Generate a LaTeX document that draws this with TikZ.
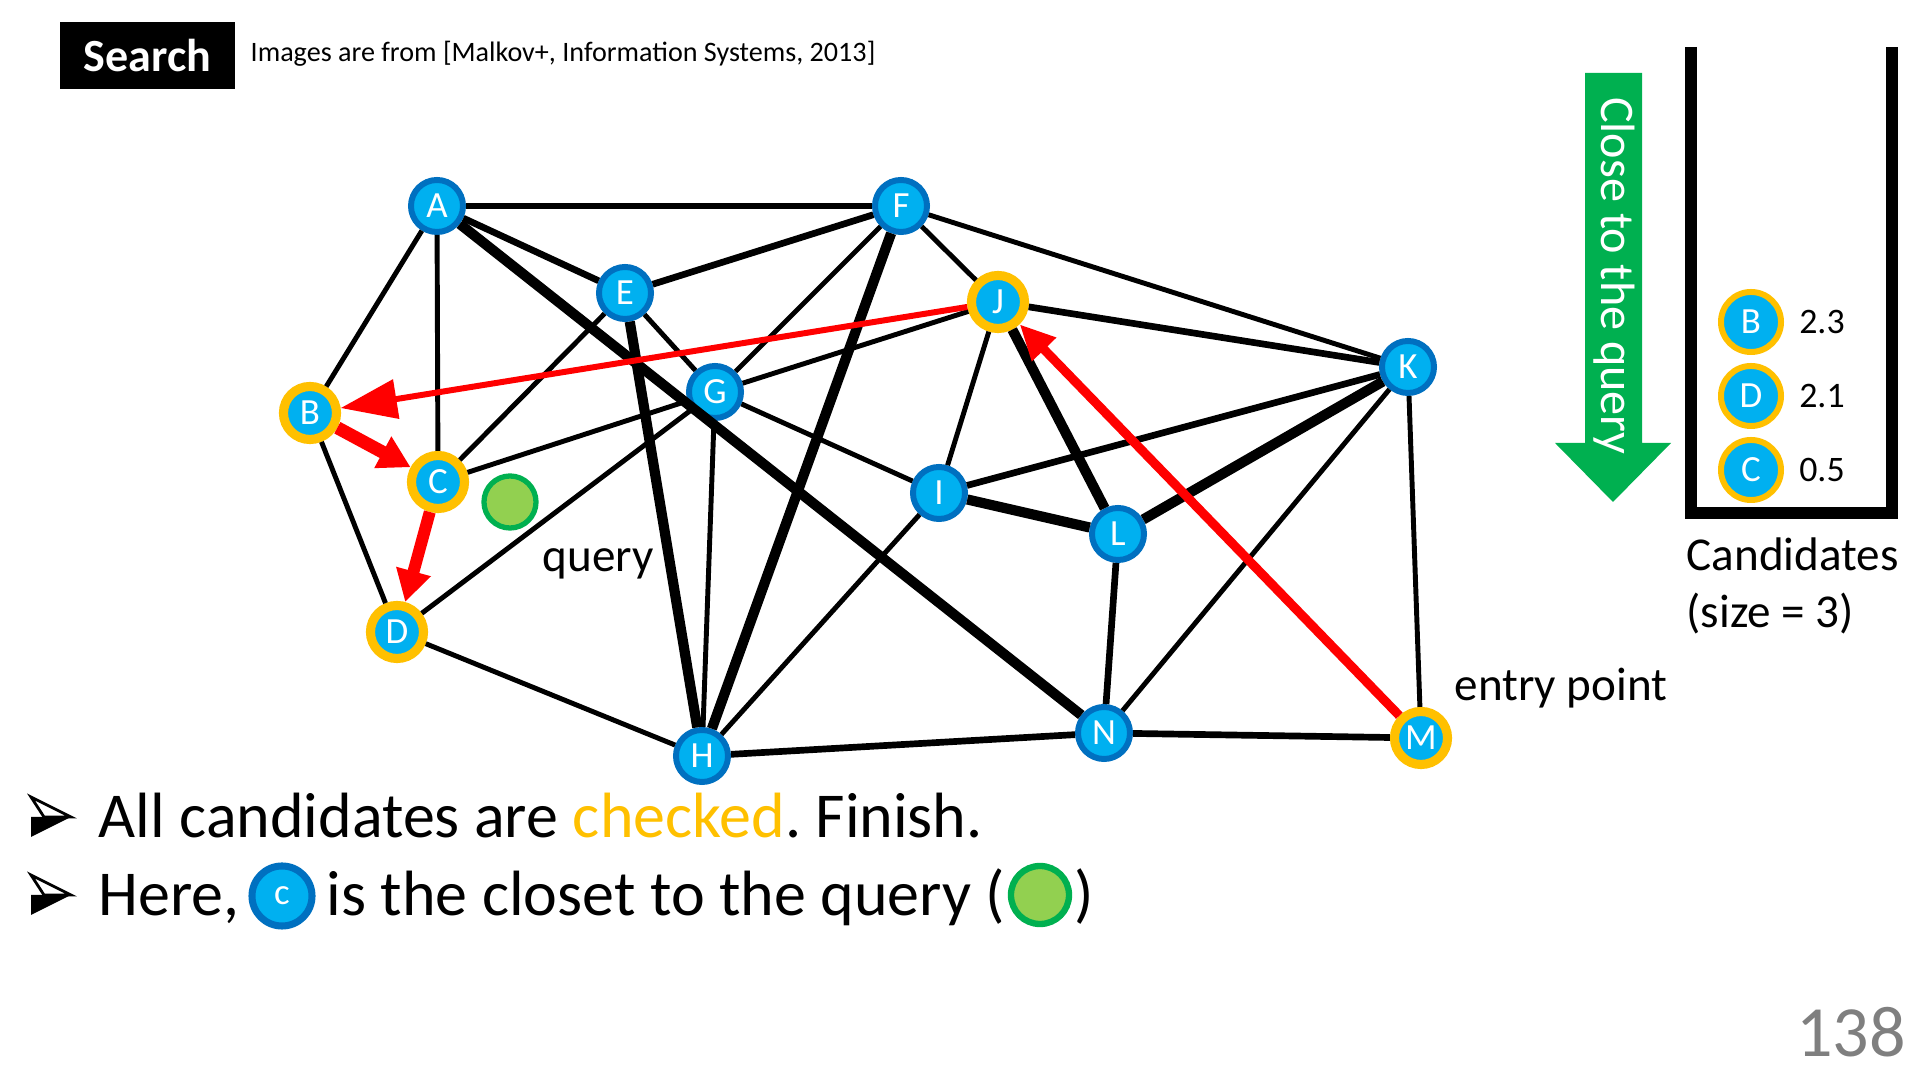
\documentclass[tikz,border=0pt]{standalone}
\usepackage{fontspec}
\setmainfont{Carlito}
\frenchspacing
\usetikzlibrary{arrows.meta,positioning}
\definecolor{nodeblue}{HTML}{00B0F0}
\definecolor{rimblue}{HTML}{0070C0}
\definecolor{gold}{HTML}{FFC000}
\definecolor{qfill}{HTML}{92D050}
\definecolor{qrim}{HTML}{00B050}
\definecolor{pagegray}{HTML}{7F7F7F}
% bullet arrowhead at (x,y)
\newcommand{\bulletmark}[2]{%
  \fill[black] (#1-20,#2) -- (#1+20,#2) -- (#1-20,#2+20) -- cycle;
  \draw[black, fill=white, line width=0.8pt, line join=miter] (#1-20,#2-20) -- (#1+20,#2) -- (#1-7,#2) -- cycle;}
\begin{document}
\begin{tikzpicture}[x=0.01cm, y=-0.01cm,
  vB/.style={circle, draw=rimblue, line width=1.7pt, fill=nodeblue, text=white, inner sep=0pt, minimum size=0.52cm, font=\fontsize{10.5}{12}\selectfont},
  vY/.style={vB, draw=gold, line width=2.6pt, minimum size=0.53cm},
  vQ/.style={circle, draw=qrim, line width=1.5pt, fill=qfill, inner sep=0pt, minimum size=0.52cm},
  ed/.style={draw=black, line width=1.4pt},
  edm/.style={draw=black, line width=1.9pt},
  edk/.style={draw=black, line width=2.9pt},
  rarr/.style={draw=red, -{Triangle[length=9pt, width=9.6pt]}},
  lbl/.style={inner sep=0pt, font=\fontsize{13.4}{16}\selectfont},
  bul/.style={inner sep=0pt, font=\fontsize{18.2}{22}\selectfont}]
\useasboundingbox (0,0) rectangle (1920,1080);
% header
\node[fill=black, text=white, inner sep=0pt, minimum width=1.75cm, minimum height=0.67cm, font=\bfseries\fontsize{13.1}{15}\selectfont] (hdr) at (147.5,55.5) {Search};
\node[inner sep=0pt, anchor=west, font=\fontsize{8}{9.5}\selectfont] (src) at (250,54) {Images are from [Malkov+, Information Systems, 2013]};
% graph
\node[vB] (A) at (437,206) {A};
\node[vB] (F) at (901,206) {F};
\node[vB] (E) at (625,293) {E};
\node[vY] (J) at (998,302) {J};
\node[vB] (G) at (715,392) {G};
\node[vB] (K) at (1408,367) {K};
\node[vY] (B) at (310,413) {B};
\node[vY] (C) at (438,482) {C};
\node[vQ] (Q) at (510,502) {};
\node[vB] (I) at (939,493) {I};
\node[vB] (L) at (1118,534) {L};
\node[vY] (D) at (397,632) {D};
\node[vB] (H) at (702,756) {H};
\node[vB] (N) at (1104,733) {N};
\node[vY] (M) at (1421,738) {M};
\draw[edm] (A)--(F); \draw[ed] (A)--(B); \draw[ed] (A)--(C);
\draw[edm] (A)--(E); \draw[edk] (A)--(N); \draw[edm] (E)--(F);
\draw[ed] (E)--(C); \draw[ed] (E)--(G); \draw[edk] (E)--(H);
\draw[ed] (F)--(G); \draw[edk] (F)--(H); \draw[ed] (F)--(J);
\draw[ed] (F)--(K); \draw[ed] (J)--(G); \draw[edm] (J)--(K);
\draw[ed] (J)--(I); \draw[edk] (J)--(L); \draw[ed] (C)--(G);
\draw[ed] (D)--(G); \draw[ed] (G)--(H); \draw[ed] (G)--(I);
\draw[ed] (B)--(D); \draw[ed] (D)--(H); \draw[edm] (H)--(N);
\draw[ed] (H)--(I); \draw[edm] (I)--(K); \draw[edk] (I)--(L);
\draw[edk] (L)--(K); \draw[edm] (L)--(N); \draw[ed] (N)--(K);
\draw[edm] (N)--(M); \draw[ed] (K)--(M);
% search path
\draw[rarr, line width=2.6pt, -{Triangle[length=10pt, width=9pt]}] (M)--(J);
\draw[rarr, line width=1.7pt, -{Triangle[length=16pt, width=11pt]}] (J)--(B);
\draw[rarr, line width=3.7pt] (B)--(C);
\draw[rarr, line width=3.4pt] (C)--(D);
\node[lbl] (qlbl) at (598,564) {query};
\node[lbl] (entry) at (1561,688) {entry point};
% candidates
\fill[qrim] (1585,73) -- (1642,73) -- (1642,443) -- (1671,443) -- (1613,502) -- (1555,443) -- (1585,443) -- cycle;
\node[rotate=-90, text=white, inner sep=0pt, font=\fontsize{13.7}{16}\selectfont] (closeq) at (1614,276) {Close to the query};
\draw[line width=3.4pt] (1691,47) -- (1691,513) -- (1892,513) -- (1892,47);
\node[vY, line width=1.7pt, minimum size=0.6cm] (cB) at (1751,322) {B};
\node[vY, line width=1.7pt, minimum size=0.6cm] (cD) at (1751,396) {D};
\node[vY, line width=1.7pt, minimum size=0.6cm] (cC) at (1751,470) {C};
\node[inner sep=0pt, font=\fontsize{10.2}{12}\selectfont] (vB) at (1822,322) {2.3};
\node[inner sep=0pt, font=\fontsize{10.2}{12}\selectfont] (vD) at (1822,396) {2.1};
\node[inner sep=0pt, font=\fontsize{10.2}{12}\selectfont] (vC) at (1822,470) {0.5};
\node[lbl, anchor=west, align=left, font=\fontsize{13.4}{16.2}\selectfont] (cand) at (1686,586) {Candidates\\(size = 3)};
% bullets
\bulletmark{51}{817}
\node[bul, anchor=base west] (line1) at (98,838) {All candidates are \textcolor{gold}{checked}. Finish.};
\bulletmark{51}{895}
\node[bul, anchor=base west] (here) at (98,916) {Here,};
\node[vB, line width=2pt, minimum size=0.6cm] (cmark) at (282,896) {c};
\node[bul, anchor=base west] (tail) at (326,916) {is the closet to the query (};
\node[vQ, line width=1.8pt, minimum size=0.58cm] (qmark) at (1040,895) {};
\node[bul, anchor=base west] (close) at (1074,916) {)};
\node[inner sep=0pt, text=pagegray, font=\fontsize{20.5}{24}\selectfont] (pg) at (1851,1032) {138};
\end{tikzpicture}
\end{document}
